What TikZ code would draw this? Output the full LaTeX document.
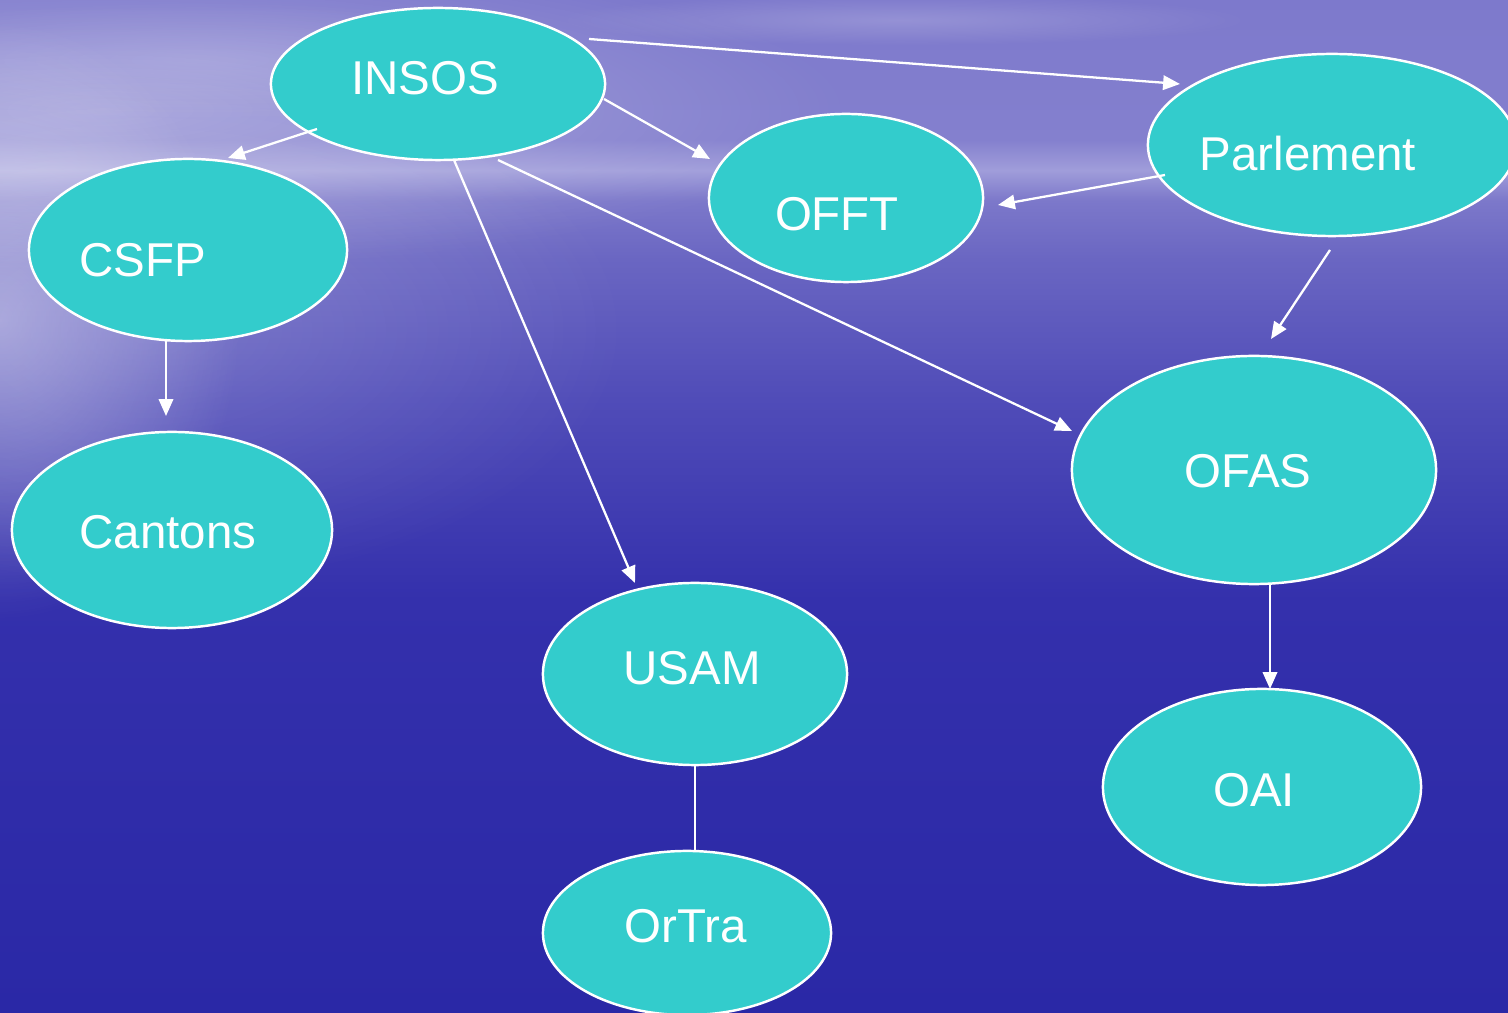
\documentclass[tikz,border=0pt]{standalone}
\usepackage{fontspec}
\setmainfont{Liberation Sans}
\usetikzlibrary{shapes.geometric,arrows.meta,fadings}
\tikzfading[name=myfade, inner color=transparent!0, outer color=transparent!100]
\definecolor{teal1}{HTML}{33CCCC}
\pgfdeclareverticalshading{seabg}{100bp}{%
  color(0bp)=(rgb,255:red,42;green,40;blue,166);
  color(25bp)=(rgb,255:red,42;green,40;blue,166);
  color(45.4bp)=(rgb,255:red,52;green,48;blue,172);
  color(55.3bp)=(rgb,255:red,80;green,76;blue,184);
  color(62.2bp)=(rgb,255:red,106;green,102;blue,194);
  color(65.1bp)=(rgb,255:red,124;green,120;blue,202);
  color(66.6bp)=(rgb,255:red,160;green,157;blue,218);
  color(68.1bp)=(rgb,255:red,132;green,128;blue,206);
  color(75bp)=(rgb,255:red,125;green,121;blue,204);
  color(100bp)=(rgb,255:red,125;green,121;blue,204)}
\tikzset{
  bubble/.style={ellipse, fill=teal1, draw=white, line width=0.7pt, inner sep=0pt},
  lbl/.style={text=white, inner sep=0pt, font=\fontsize{13.5}{16}\selectfont},
  conn/.style={draw=white, line width=0.65pt, -{Triangle[length=4.8pt,width=4.1pt]}},
  plain/.style={draw=white, line width=0.65pt}
}
\begin{document}
\begin{tikzpicture}[x=0.01cm,y=-0.01cm]
\useasboundingbox (0,0) rectangle (1508,1013);
% background
\shade[shading=seabg] (0,0) rectangle (1508,1013);
\fill[white, opacity=0.30, path fading=myfade] (100,110) ellipse (750 and 160);
\fill[white, opacity=0.15, path fading=myfade] (200,60) ellipse (400 and 60);
\fill[white, opacity=0.18, path fading=myfade] (900,20) ellipse (350 and 25);
\fill[white, opacity=0.40, path fading=myfade] (0,320) ellipse (240 and 300);
\fill[white, opacity=0.18, path fading=myfade] (150,330) ellipse (480 and 260);
% nodes
\node[bubble, minimum width=3.34cm, minimum height=1.52cm] (INSOS) at (438,84) {};
\node[bubble, minimum width=3.68cm, minimum height=1.82cm] (Parl) at (1332,145) {};
\node[bubble, minimum width=2.74cm, minimum height=1.68cm] (OFFT) at (846,198) {};
\node[bubble, minimum width=3.18cm, minimum height=1.82cm] (CSFP) at (188,250) {};
\node[bubble, minimum width=3.20cm, minimum height=1.96cm] (Cant) at (172,530) {};
\node[bubble, minimum width=3.64cm, minimum height=2.28cm] (OFAS) at (1254,470) {};
\node[bubble, minimum width=3.04cm, minimum height=1.82cm] (USAM) at (695,674) {};
\node[bubble, minimum width=2.88cm, minimum height=1.64cm] (OrTra) at (687,933) {};
\node[bubble, minimum width=3.18cm, minimum height=1.96cm] (OAI) at (1262,787) {};
% labels
\node[lbl] (tINSOS) at (425,78) {INSOS};
\node[lbl] (tParl) at (1308,154) {Parlement};
\node[lbl] (tOFFT) at (837,214) {OFFT};
\node[lbl] (tCSFP) at (143,260) {CSFP};
\node[lbl] (tCant) at (168,532) {Cantons};
\node[lbl] (tOFAS) at (1248,471) {OFAS};
\node[lbl] (tUSAM) at (692,668) {USAM};
\node[lbl] (tOrTra) at (686,926) {OrTra};
\node[lbl] (tOAI) at (1254,790) {OAI};
% connector end points
\coordinate (a1) at (589,39);   \coordinate (a2) at (1180,84);
\coordinate (b1) at (604,99);   \coordinate (b2) at (710,159);
\coordinate (c1) at (317,129);  \coordinate (c2) at (228,158);
\coordinate (d1) at (454,160);  \coordinate (d2) at (635,583);
\coordinate (e1) at (498,160);  \coordinate (e2) at (1072,431);
\coordinate (f1) at (1165,175); \coordinate (f2) at (998,205);
\coordinate (g1) at (1330,250); \coordinate (g2) at (1271,339);
\coordinate (h1) at (166,341);  \coordinate (h2) at (166,416);
\coordinate (i1) at (1270,583); \coordinate (i2) at (1270,689);
% connectors
\draw[conn] (a1) -- (a2);
\draw[conn] (b1) -- (b2);
\draw[conn] (c1) -- (c2);
\draw[conn] (d1) -- (d2);
\draw[conn] (e1) -- (e2);
\draw[conn] (f1) -- (f2);
\draw[conn] (g1) -- (g2);
\draw[conn] (h1) -- (h2);
\draw[conn] (i1) -- (i2);
\draw[plain] (USAM.south) -- (USAM.south |- OrTra.north);
\end{tikzpicture}
\end{document}
